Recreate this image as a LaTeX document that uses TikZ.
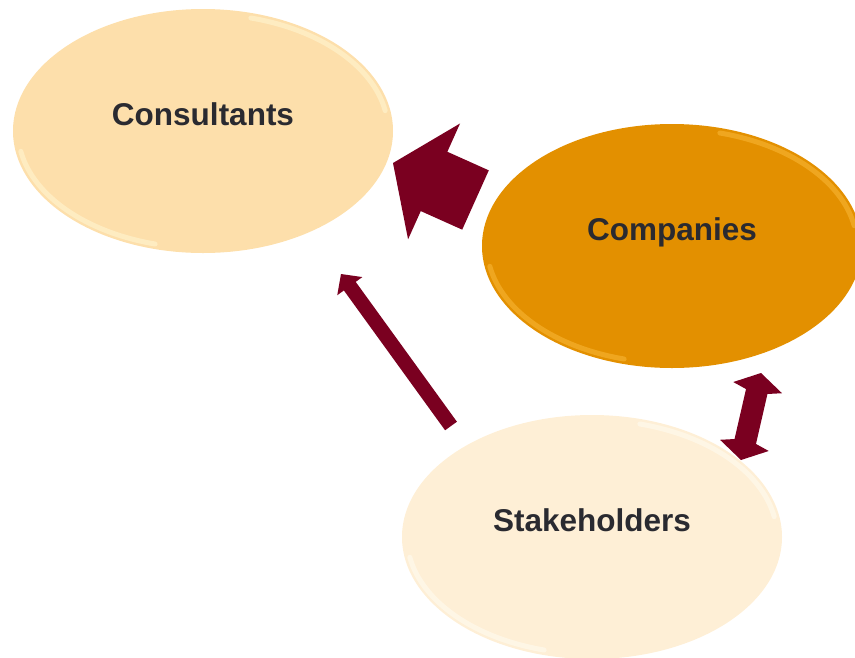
\documentclass[tikz,border=0pt]{standalone}
\usepackage{fontspec}
\setmainfont{Liberation Sans}
\usetikzlibrary{shapes.geometric,calc}
\definecolor{wine}{RGB}{122,0,32}
\definecolor{peach}{RGB}{253,223,171}
\definecolor{peachrim}{RGB}{255,245,208}
\definecolor{amber}{RGB}{227,144,0}
\definecolor{amberrim}{RGB}{248,182,52}
\definecolor{cream}{RGB}{254,239,214}
\definecolor{creamrim}{RGB}{255,251,240}
\definecolor{txt}{RGB}{42,42,48}

% block arrow from #1 to #2: shaft half width #3, head half width #4, head length #5
\newcommand{\blockarrow}[5]{%
    \coordinate (nk) at ($(#2)!#5!(#1)$);
    \fill[wine] ($(#1)!#3!90:(#2)$) -- ($(nk)!#3!90:(#2)$) -- ($(nk)!#4!90:(#2)$) -- (#2)
        -- ($(nk)!#4!-90:(#2)$) -- ($(nk)!#3!-90:(#2)$) -- ($(#1)!#3!-90:(#2)$) -- cycle;}

% the same with a head at both ends, barbs #6 ahead of the neck
\newcommand{\twinarrow}[6]{%
    \coordinate (nka) at ($(#1)!#5!(#2)$);
    \coordinate (nkb) at ($(#2)!#5!(#1)$);
    \coordinate (bba) at ($(#1)!#5-#6!(#2)$);
    \coordinate (bbb) at ($(#2)!#5-#6!(#1)$);
    \fill[wine] (#1) -- ($(bba)!#4!90:(#2)$) -- ($(nka)!#3!90:(#2)$) -- ($(nkb)!#3!90:(#2)$)
        -- ($(bbb)!#4!90:(#2)$) -- (#2) -- ($(bbb)!#4!-90:(#2)$) -- ($(nkb)!#3!-90:(#2)$)
        -- ($(nka)!#3!-90:(#2)$) -- ($(bba)!#4!-90:(#2)$) -- cycle;}

\begin{document}
\begin{tikzpicture}[x=1pt, y=-1pt,
    main/.style = {ellipse, minimum width=380pt, minimum height=244pt, inner sep=0pt,
        font=\bfseries\fontsize{31.5}{36}\selectfont, text=txt, text height=0pt, text depth=11pt},
    rim/.style = {line width=5pt, line cap=round, opacity=.6}]
        \useasboundingbox (0,0) rectangle (855,657);

        \node[main, fill=peach] (cons) at (203,131) {Consultants};
        \node[main, fill=amber] (comp) at (672,246) {Companies};
        \node[main, fill=cream] (stake) at (592,537) {Stakeholders};

        % light rims
        \draw[rim, peachrim] ([shift={(285:185 and 117)}]cons.center) arc[start angle=285, end angle=350, x radius=185, y radius=117];
        \draw[rim, peachrim] ([shift={(105:185 and 117)}]cons.center) arc[start angle=105, end angle=170, x radius=185, y radius=117];
        \draw[rim, amberrim] ([shift={(285:185 and 117)}]comp.center) arc[start angle=285, end angle=350, x radius=185, y radius=117];
        \draw[rim, amberrim] ([shift={(105:185 and 117)}]comp.center) arc[start angle=105, end angle=170, x radius=185, y radius=117];
        \draw[rim, creamrim] ([shift={(285:185 and 117)}]stake.center) arc[start angle=285, end angle=350, x radius=185, y radius=117];
        \draw[rim, creamrim] ([shift={(105:185 and 117)}]stake.center) arc[start angle=105, end angle=170, x radius=185, y radius=117];

        \coordinate (co1) at (475.5,200);
        \coordinate (co2) at (393,163);
        \coordinate (st1) at (451,426);
        \coordinate (st2) at (341,274);
        \coordinate (sc1) at (741,460);
        \coordinate (sc2) at (761,373);

        \blockarrow{co1}{co2}{32.5pt}{63.5pt}{45pt}
        \blockarrow{st1}{st2}{7.3pt}{15.5pt}{15pt}
        \twinarrow{sc1}{sc2}{11pt}{25pt}{19pt}{4pt}

    \end{tikzpicture}
\end{document}
